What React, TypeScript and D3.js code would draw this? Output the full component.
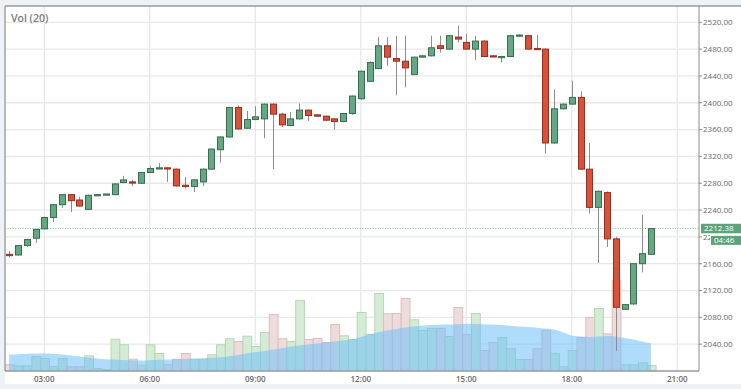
import React from "react";
import * as d3 from "d3";

const times = [
  "02:00","02:15","02:30","02:45","03:00","03:15","03:30","03:45",
  "04:00","04:15","04:30","04:45","05:00","05:15","05:30","05:45",
  "06:00","06:15","06:30","06:45","07:00","07:15","07:30","07:45",
  "08:00","08:15","08:30","08:45","09:00","09:15","09:30","09:45",
  "10:00","10:15","10:30","10:45","11:00","11:15","11:30","11:45",
  "12:00","12:15","12:30","12:45","13:00","13:15","13:30","13:45",
  "14:00","14:15","14:30","14:45","15:00","15:15","15:30","15:45",
  "16:00","16:15","16:30","16:45","17:00","17:15","17:30","17:45",
  "18:00","18:15","18:30","18:45","19:00","19:15","19:30","19:45",
  "20:00","20:15",
];

const opens = [
  2174,2173,2187,2198,2212,2229,2248,2263,2255,2241,2262,2263,2263,2281,2282,2280,
  2296,2302,2303,2301,2277,2275,2282,2301,2330,2349,2393,2362,2375,2376,2398,2383,
  2366,2376,2389,2382,2380,2376,2372,2384,2406,2432,2451,2485,2466,2462,2442,2468,
  2470,2485,2480,2498,2490,2480,2492,2470,2468,2469,2500,2500,2481,2480,2340,2391,
  2398,2408,2301,2244,2266,2197,2092,2100,2160,2174,
];
const highs = [
  2179,2188,2197,2212,2230,2249,2264,2264,2260,2263,2264,2264,2280,2291,2285,2297,
  2306,2310,2304,2302,2289,2286,2302,2332,2350,2394,2396,2388,2395,2399,2399,2385,
  2386,2399,2390,2383,2381,2377,2385,2411,2448,2462,2498,2498,2500,2500,2469,2471,
  2500,2500,2501,2515,2503,2500,2493,2471,2470,2501,2502,2501,2501,2481,2420,2399,
  2433,2417,2340,2269,2268,2200,2100,2161,2233,2213,
];
const lows = [
  2169,2172,2185,2191,2211,2222,2243,2237,2245,2240,2261,2262,2262,2280,2276,2279,
  2295,2301,2282,2275,2272,2267,2276,2300,2311,2348,2360,2361,2374,2347,2301,2364,
  2365,2375,2373,2379,2373,2360,2371,2382,2404,2431,2450,2455,2411,2423,2441,2467,
  2469,2475,2479,2490,2479,2464,2468,2468,2460,2468,2499,2479,2479,2324,2339,2390,
  2397,2300,2235,2161,2185,2030,2091,2099,2147,2173,
];
const closes = [
  2172,2187,2196,2211,2229,2248,2263,2254,2246,2262,2263,2264,2279,2285,2281,2296,
  2302,2303,2302,2276,2275,2285,2301,2331,2349,2393,2361,2375,2379,2398,2383,2367,
  2376,2389,2381,2380,2374,2372,2384,2410,2447,2460,2485,2468,2462,2452,2468,2470,
  2482,2481,2500,2495,2480,2492,2469,2469,2469,2500,2501,2480,2480,2340,2391,2398,
  2408,2301,2244,2268,2197,2095,2099,2160,2175,2212.38,
];

const volumes = [
  57,47,47,140,120,40,120,37,37,147,20,10,313,257,113,53,
  257,170,57,113,170,113,113,157,257,317,290,343,240,380,560,317,
  290,700,310,320,280,460,347,310,580,360,770,567,570,720,507,400,
  420,420,340,630,360,570,200,280,330,217,110,110,217,400,170,37,
  200,330,530,620,367,900,57,57,77,50,
];

const volumeMA = [
  160,163,167,170,170,167,160,150,140,130,120,113,110,105,102,100,
  103,107,110,113,115,117,120,127,133,140,155,170,185,195,210,223,
  237,250,260,270,280,290,300,310,335,360,383,400,415,430,440,450,
  455,458,460,463,467,465,463,460,455,448,440,435,428,420,410,380,
  350,340,335,340,345,340,325,310,290,270,
];

const priceTicks = [2040,2080,2120,2160,2200,2240,2280,2320,2360,2400,2440,2480,2520];
const timeTicks = ["03:00","06:00","09:00","12:00","15:00","18:00","21:00"];
const lastPrice = 2212.38;
const countdown = "04:46";
const volLabel = "Vol (20)";

const W = 741;
const H = 389;
const FONT = "'Open Sans', Arial, sans-serif";

const toHours = (s: string) => {
  const [h, m] = s.split(":").map(Number);
  return h + m / 60;
};

export default function App() {
  const plotL = 5, plotR = 699, plotT = 6, plotB = 371;
  const x = d3.scaleLinear().domain([1.8826, 21.617]).range([plotL, plotR]);
  const y = d3.scaleLinear().domain([2000, 2544.3]).range([plotB, plotT]);
  const yv = d3.scaleLinear().domain([0, 1000]).range([370.5, 270.5]);

  const step = x(toHours("02:15")) - x(toHours("02:00"));
  const bodyW = 6;

  const candles = times.map((t, i) => ({
    cx: x(toHours(t)),
    o: opens[i], h: highs[i], l: lows[i], c: closes[i],
    v: volumes[i], ma: volumeMA[i],
    up: closes[i] >= opens[i],
  }));

  const area = d3.area<any>()
    .x((d) => d.cx)
    .y0(yv(0))
    .y1((d) => yv(d.ma))
    .curve(d3.curveMonotoneX);

  const lastY = y(lastPrice);

  return (
    <div style={{ position: "absolute", left: 0, top: 0 }}>
      <svg width={W} height={H} style={{ display: "block" }} fontFamily={FONT}>
        <defs>
          <clipPath id="plotclip">
            <rect x={plotL} y={plotT} width={plotR - plotL} height={plotB - plotT} />
          </clipPath>
          <clipPath id="lblclip">
            <rect x={plotR} y={0} width={11} height={H} />
          </clipPath>
        </defs>
        <rect x={0} y={0} width={W} height={H} fill="#eef1f5" />
        <rect x={plotL} y={plotT} width={W - plotL} height={384 - plotT} fill="#ffffff" />

        {/* grid */}
        {priceTicks.map((p) => (
          <line key={"gh" + p} x1={plotL} x2={plotR} y1={y(p)} y2={y(p)} stroke="#e8e8e8" strokeWidth={1.3} />
        ))}
        {timeTicks.map((t) => (
          <line key={"gv" + t} x1={x(toHours(t))} x2={x(toHours(t))} y1={plotT} y2={plotB} stroke="#e8e8e8" strokeWidth={1.3} />
        ))}

        <g clipPath="url(#plotclip)">
          {/* volume bars */}
          {candles.map((d, i) => (
            <rect
              key={"v" + i}
              x={d.cx - step / 2 + 0.8}
              y={yv(d.v)}
              width={step}
              height={yv(0) - yv(d.v)}
              fill={d.up ? "#d6ebd6" : "#eedcdc"}
              stroke={d.up ? "#b4d8b4" : "#ddbdbd"}
              strokeWidth={1}
            />
          ))}
          {/* volume MA area */}
          <path d={area(candles) || ""} fill="#6fbff7" fillOpacity={0.55} />

          {/* last price line */}
          <line x1={plotL} x2={plotR} y1={lastY} y2={lastY} stroke="#7fc495" strokeWidth={1} strokeDasharray="1,1.5" />

          {/* candles */}
          {candles.map((d, i) => {
            const top = y(Math.max(d.o, d.c));
            const bot = y(Math.min(d.o, d.c));
            const cx = Math.round(d.cx) + 0.5;
            return (
              <g key={"c" + i}>
                <line x1={cx} x2={cx} y1={y(d.h)} y2={y(d.l)} stroke="#8c8c8c" strokeWidth={1} />
                <rect
                  x={cx - bodyW / 2}
                  y={top}
                  width={bodyW}
                  height={Math.max(1.2, bot - top)}
                  fill={d.up ? "#68a784" : "#d9503b"}
                  stroke={d.up ? "#336f4f" : "#93301f"}
                  strokeWidth={1}
                />
              </g>
            );
          })}
        </g>

        {/* frame */}
        <line x1={plotL} x2={W} y1={plotT} y2={plotT} stroke="#9a9a9a" strokeWidth={1.6} />
        <line x1={plotL} x2={plotL} y1={plotT} y2={plotB} stroke="#a8a8a8" strokeWidth={1.6} />
        <line x1={plotL} x2={plotR} y1={plotB} y2={plotB} stroke="#9a9a9a" strokeWidth={1.4} />
        <line x1={plotR} x2={plotR} y1={plotT} y2={plotB} stroke="#8a8a8a" strokeWidth={1} />

        {/* price axis */}
        {priceTicks.map((p) => (
          <g key={"pt" + p}>
            <line x1={plotR} x2={plotR + 3} y1={y(p)} y2={y(p)} stroke="#8a8a8a" />
            {p === 2200 ? (
              <g clipPath="url(#lblclip)">
                <text x={plotR + 4} y={y(p)} dy="0.35em" fontSize={8} fill="#666">
                  {p.toFixed(2)}
                </text>
              </g>
            ) : (
              <text x={plotR + 4} y={y(p)} dy="0.35em" fontSize={8} fill="#666">
                {p.toFixed(2)}
              </text>
            )}
          </g>
        ))}

        {/* time axis */}
        {timeTicks.map((t) => (
          <text key={"tt" + t} x={x(toHours(t))} y={382} textAnchor="middle" fontSize={8} fontWeight={600} fill="#666">
            {t}
          </text>
        ))}

        {/* last price label */}
        <rect x={701} y={lastY - 4.8} width={40} height={9.5} fill="#5fa27c" />
        <text x={704} y={lastY} dy="0.35em" fontSize={8} fill="#ffffff">
          {lastPrice.toFixed(2)}
        </text>
        <rect x={711} y={lastY + 7.3} width={30} height={9} fill="#5fa27c" />
        <text x={714} y={lastY + 11.8} dy="0.35em" fontSize={8} fill="#ffffff">
          {countdown}
        </text>

        {/* volume label */}
        <text x={11} y={21.5} fontSize={10.5} fontWeight={600} fill="#7a7a7a">
          {volLabel}
        </text>
      </svg>
    </div>
  );
}
